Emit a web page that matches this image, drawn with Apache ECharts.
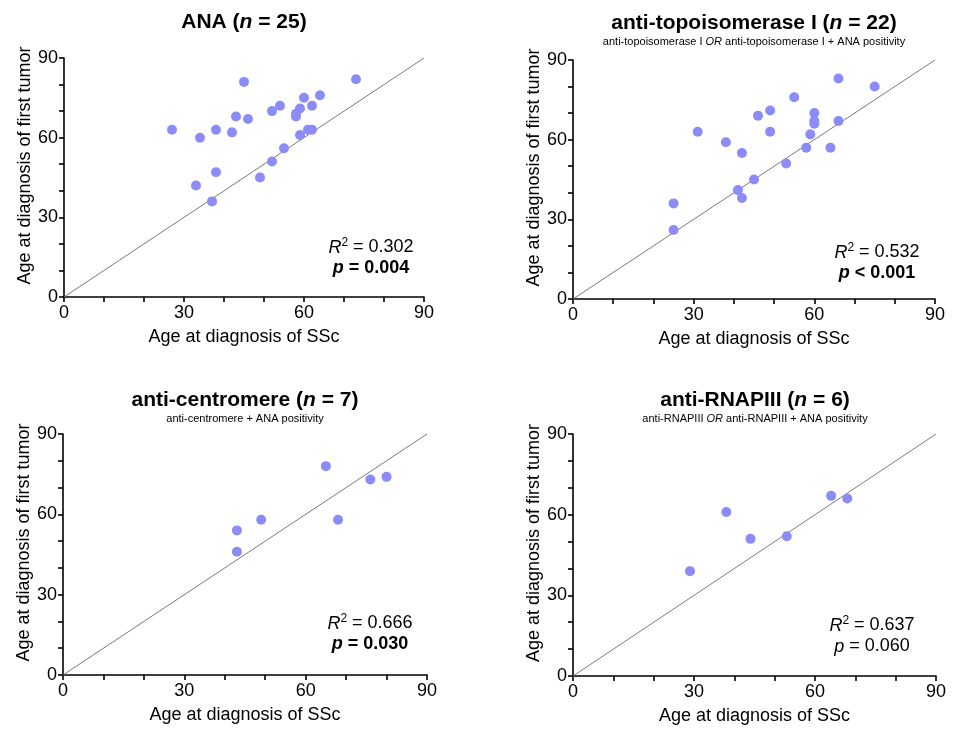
<!DOCTYPE html>
<html>
<head>
<meta charset="utf-8">
<title>Age at diagnosis of SSc vs first tumor</title>
<script src="https://cdn.jsdelivr.net/npm/echarts@6/dist/echarts.min.js"></script>
<style>
  html, body { margin: 0; padding: 0; background: #fff; }
  #chart { width: 953px; height: 729px; }
</style>
</head>
<body>
<div id="chart"></div>
<script>
// Age at diagnosis of SSc (x) and of first tumor (y), per autoantibody group
const anaSSc     = [27, 34, 33, 38, 38, 37, 42, 43, 45, 46, 49, 52, 52, 54, 55, 58, 58, 59, 59, 60, 61, 62, 62, 64, 73];
const anaTumor   = [63, 60, 42, 63, 47, 36, 62, 68, 81, 67, 45, 70, 51, 72, 56, 69, 68, 71, 61, 75, 63, 63, 72, 76, 82];

const topoSSc    = [25, 25, 31, 38, 42, 41, 42, 45, 46, 49, 49, 53, 55, 58, 59, 60, 60, 60, 64, 66, 66, 75];
const topoTumor  = [36, 26, 63, 59, 55, 41, 38, 45, 69, 71, 63, 51, 76, 57, 62, 70, 67, 66, 57, 67, 83, 80];

const centSSc    = [43, 43, 49, 65, 68, 76, 80];
const centTumor  = [54, 46, 58, 78, 58, 73, 74];

const rnapSSc    = [29, 38, 44, 53, 64, 68];
const rnapTumor  = [39, 61, 51, 52, 67, 66];

// Line of identity (y = x) and shared axis range
const identityLine = [[0, 0], [90, 90]];
const axisMin = 0, axisMax = 90, axisStep = 30;
const tickLabels = [0, 30, 60, 90];

// Group titles, subtitles and regression statistics
const groupNames = ['ANA', 'anti-topoisomerase I', 'anti-centromere', 'anti-RNAPIII'];
const groupN     = [25, 22, 7, 6];
const subtitles  = [
  '',
  '{s|anti-topoisomerase I }{si|OR}{s| anti-topoisomerase I + ANA positivity}',
  '{s|anti-centromere + ANA positivity}',
  '{s|anti-RNAPIII }{si|OR}{s| anti-RNAPIII + ANA positivity}'
];
const rSquared   = ['0.302', '0.532', '0.666', '0.637'];
const pValues    = ['= 0.004', '< 0.001', '= 0.030', '= 0.060'];
const pSignificant = [true, true, true, false];

const FONT = "'Liberation Sans', Arial, Helvetica, sans-serif";
const DOT = '#8c8cf8';

const zip = (xs, ys) => xs.map((x, i) => [x, ys[i]]);
const groups = [
  zip(anaSSc, anaTumor),
  zip(topoSSc, topoTumor),
  zip(centSSc, centTumor),
  zip(rnapSSc, rnapTumor)
];

// Panel layout: plot rectangles, title and statistic positions
const grids = [
  { left: 64,  right: 529, top: 58,  bottom: 432 },
  { left: 573, right: 18,  top: 60,  bottom: 430 },
  { left: 63,  right: 526, top: 434, bottom: 54 },
  { left: 573, right: 17,  top: 434, bottom: 53 }
];
const titlePos = [
  { x: 244, y: 10 },
  { x: 754, y: 11 },
  { x: 245, y: 388 },
  { x: 755, y: 388 }
];
const statPos = [
  { x: 371, y: 237 },
  { x: 877, y: 242 },
  { x: 370, y: 613 },
  { x: 872, y: 615 }
];

const axisLineStyle = { color: '#000', width: 1.6 };

function makeAxis(i, isX) {
  return {
    type: 'value',
    gridIndex: i,
    min: axisMin,
    max: axisMax,
    interval: axisStep,
    axisLine: { show: true, onZero: false, lineStyle: axisLineStyle },
    axisTick: { show: true, length: 5, inside: false, lineStyle: axisLineStyle },
    minorTick: { show: true, splitNumber: 3, length: 5, lineStyle: axisLineStyle },
    splitLine: { show: false },
    minorSplitLine: { show: false },
    axisLabel: {
      show: true,
      color: '#000',
      fontFamily: FONT,
      fontSize: 18,
      margin: isX ? 7 : 6,
      formatter: v => (tickLabels.indexOf(v) >= 0 ? String(v) : '')
    },
    name: isX ? 'Age at diagnosis of SSc' : 'Age at diagnosis of first tumor',
    nameLocation: 'middle',
    nameGap: isX ? 31 : 29,
    nameTextStyle: {
      color: '#000',
      fontFamily: FONT,
      fontSize: 18,
      padding: isX ? 0 : [0, 0, 0, 24]
    }
  };
}

const titles = [];
groups.forEach((_, i) => {
  titles.push({
    text: '{b|' + groupNames[i] + ' (}{bi|n}{b| = ' + groupN[i] + ')}',
    subtext: subtitles[i],
    left: titlePos[i].x,
    top: titlePos[i].y,
    textAlign: 'center',
    padding: 0,
    itemGap: 4,
    textStyle: {
      rich: {
        b:  { fontFamily: FONT, fontSize: 21, fontWeight: 'bold', color: '#000', lineHeight: 24 },
        bi: { fontFamily: FONT, fontSize: 21, fontWeight: 'bold', fontStyle: 'italic', color: '#000', lineHeight: 24 }
      }
    },
    subtextStyle: {
      rich: {
        s:  { fontFamily: FONT, fontSize: 11, fontWeight: 'normal', color: '#000', lineHeight: 12 },
        si: { fontFamily: FONT, fontSize: 11, fontWeight: 'normal', fontStyle: 'italic', color: '#000', lineHeight: 12 }
      }
    }
  });
  const pw = pSignificant[i] ? 'bold' : 'normal';
  titles.push({
    text: '{i|R}{sup|2}{n| = ' + rSquared[i] + '}\n{pi|p}{pn| ' + pValues[i] + '}',
    left: statPos[i].x,
    top: statPos[i].y,
    textAlign: 'center',
    padding: 0,
    textStyle: {
      fontWeight: 'normal',
      rich: {
        i:   { fontFamily: FONT, fontSize: 18, fontWeight: 'normal', fontStyle: 'italic', color: '#000', lineHeight: 21 },
        sup: { fontFamily: FONT, fontSize: 12, fontWeight: 'normal', color: '#000', lineHeight: 12, verticalAlign: 'top' },
        n:   { fontFamily: FONT, fontSize: 18, fontWeight: 'normal', color: '#000', lineHeight: 21 },
        pi:  { fontFamily: FONT, fontSize: 18, fontStyle: 'italic', fontWeight: pw, color: '#000', lineHeight: 21 },
        pn:  { fontFamily: FONT, fontSize: 18, fontWeight: pw, color: '#000', lineHeight: 21 }
      }
    }
  });
});

const series = [];
groups.forEach((pts, i) => {
  series.push({
    type: 'line',
    xAxisIndex: i,
    yAxisIndex: i,
    data: identityLine,
    showSymbol: false,
    symbol: 'none',
    silent: true,
    z: 1,
    lineStyle: { color: '#7a7a7a', width: 1 }
  });
  series.push({
    type: 'scatter',
    xAxisIndex: i,
    yAxisIndex: i,
    data: pts,
    symbol: 'circle',
    symbolSize: 10,
    z: 3,
    itemStyle: { color: DOT, opacity: 1 }
  });
});

const chart = echarts.init(document.getElementById('chart'), null, { renderer: 'canvas' });
chart.setOption({
  animation: false,
  backgroundColor: '#fff',
  title: titles,
  grid: grids.map(g => Object.assign({ containLabel: false, outerBoundsMode: 'none' }, g)),
  xAxis: groups.map((_, i) => makeAxis(i, true)),
  yAxis: groups.map((_, i) => makeAxis(i, false)),
  series: series
});
</script>
</body>
</html>
